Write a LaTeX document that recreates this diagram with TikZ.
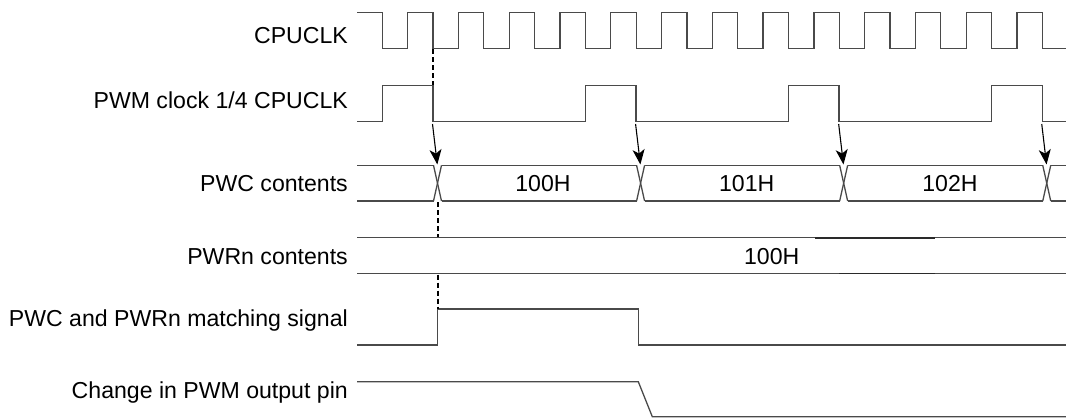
\documentclass[tikz,border=0pt]{standalone}
\usepackage{fontspec}
\setmainfont{Liberation Sans}
\usetikzlibrary{arrows.meta}
\definecolor{wavec}{HTML}{4A4A4A}
\definecolor{darkseg}{HTML}{2A2A2A}
\begin{document}
\begin{tikzpicture}[x=1pt,y=-1pt,
  wave/.style={draw=wavec,line width=1.3pt,line join=miter},
  lbl/.style={anchor=base east,inner sep=0pt,font=\fontsize{23.1}{27}\selectfont},
  val/.style={anchor=base,inner sep=0pt,font=\fontsize{23.1}{27}\selectfont},
  trig/.style={draw=black,line width=1.1pt,-{Stealth[length=15pt,width=12pt,inset=4pt]}},
  guide/.style={draw=black,line width=1.7pt,dash pattern=on 5pt off 3pt}]
\useasboundingbox (0,0) rectangle (1066,420);
% labels
\node[lbl] (l1) at (348,43.3) {CPUCLK};
\node[lbl] (l2) at (348,108.3) {PWM clock 1/4 CPUCLK};
\node[lbl] (l3) at (348,191.5) {PWC contents};
\node[lbl] (l4) at (348,264.3) {PWRn contents};
\node[lbl] (l5) at (348,326) {PWC and PWRn matching signal};
\node[lbl] (l6) at (348,398.3) {Change in PWM output pin};
% CPUCLK
\draw[wave] (357,12.7)
  \foreach \k in {0,...,12}{
    -- ({382.3+50.77*\k},12.7) -- ({382.3+50.77*\k},48.7)
    -- ({407.7+50.77*\k},48.7) -- ({407.7+50.77*\k},12.7) }
  -- (1042.3,12.7) -- (1042.3,48.7) -- (1066,48.7);
% PWM clock
\draw[wave] (357,121.7)
  \foreach \k in {0,...,3}{
    -- ({382.3+203.08*\k},121.7) -- ({382.3+203.08*\k},85.3)
    -- ({432.9+203.08*\k},85.3) -- ({432.9+203.08*\k},121.7) }
  -- (1066,121.7);
% PWC contents
\draw[wave] (357,165.3) -- (433.5,165.3);
\draw[wave] (357,201) -- (433.5,201);
\foreach \k in {0,...,3}{
  \pgfmathsetmacro{\cx}{437.5+203.08*\k}
  \draw[wave] ({\cx-4},165.3) -- ({\cx+4},201);
  \draw[wave] ({\cx-4},201) -- ({\cx+4},165.3);
}
\foreach \k in {0,...,2}{
  \pgfmathsetmacro{\ca}{437.5+203.08*\k+4}
  \pgfmathsetmacro{\cb}{437.5+203.08*(\k+1)-4}
  \draw[wave] (\ca,165.3) -- (\cb,165.3);
  \draw[wave] (\ca,201) -- (\cb,201);
}
\draw[wave] (1050.7,165.3) -- (1066,165.3);
\draw[wave] (1050.7,201) -- (1066,201);
\node[val] (v1) at (543,191.5) {100H};
\node[val] (v2) at (746.7,191.5) {101H};
\node[val] (v3) at (950,191.5) {102H};
% trigger arrows
\foreach \k in {0,...,3}{
  \coordinate (s\k) at ({432.5+203.08*\k},124);
  \coordinate (e\k) at ({437.3+203.08*\k},164.5);
  \draw[trig] (s\k) -- (e\k);
}
% PWRn contents
\draw[wave] (357,237.7) -- (1066,237.7);
\draw[wave] (357,273.3) -- (1066,273.3);
\draw[draw=darkseg,line width=1.6pt] (815,237.7) -- (935,237.7);
\draw[draw=darkseg,line width=1.6pt] (839,273.3) -- (935,273.3);
\node[val] (v4) at (771.7,264.3) {100H};
% matching signal
\draw[wave] (357,345) -- (437.7,345) -- (437.7,309) -- (638.3,309) -- (638.3,345) -- (1066,345);
% output pin
\draw[wave] (357,381.7) -- (638.3,381.7) -- (652.3,416.7) -- (1066,416.7);
% guides
\coordinate (g1a) at (432.7,49.5);
\coordinate (g1b) at (432.7,85);
\coordinate (g2a) at (437.7,202);
\coordinate (g2b) at (437.7,237);
\coordinate (g3a) at (437.7,274.5);
\coordinate (g3b) at (437.7,309);
\draw[guide] (g1a) -- (g1b);
\draw[guide] (g2a) -- (g2b);
\draw[guide] (g3a) -- (g3b);
\end{tikzpicture}
\end{document}
